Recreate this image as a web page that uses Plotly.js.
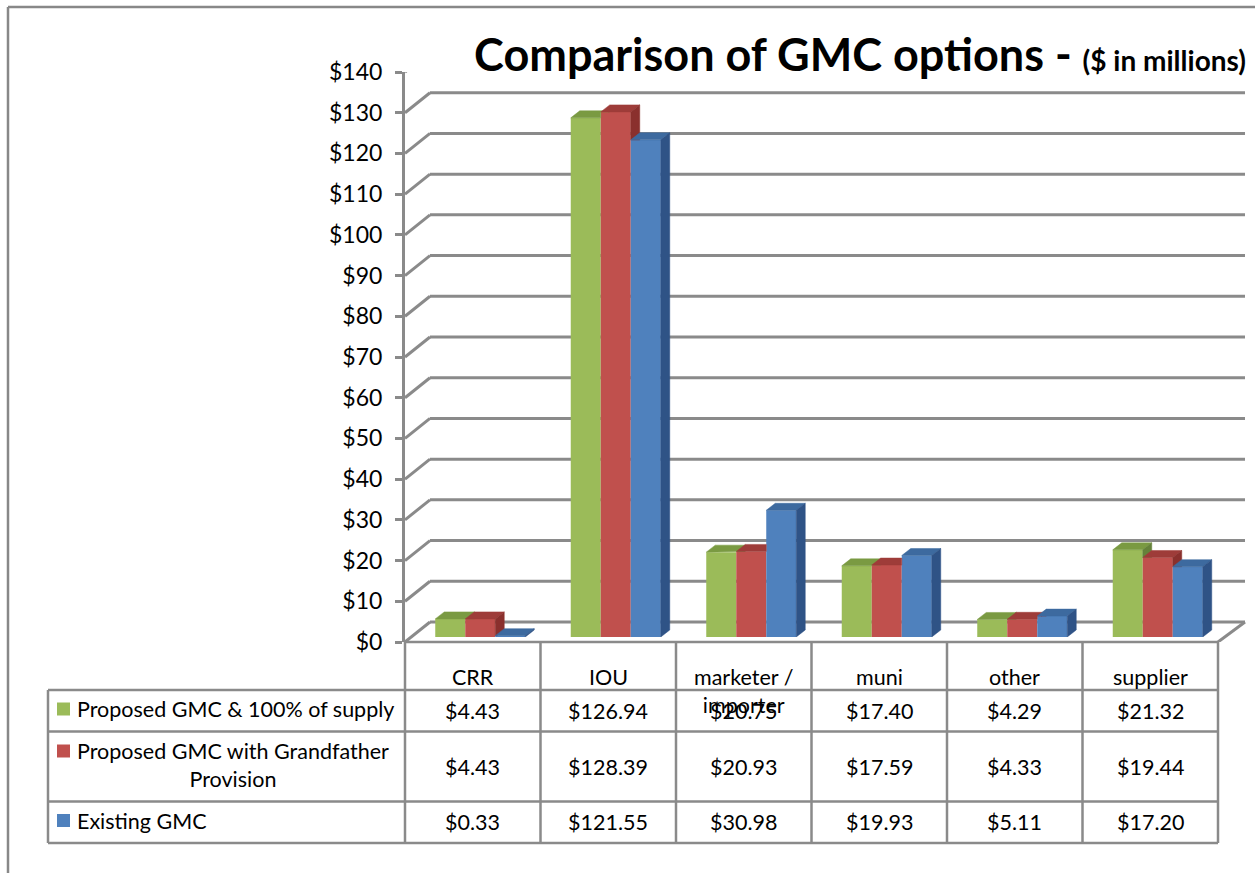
<!DOCTYPE html>
<html>
<head>
<meta charset="utf-8">
<script src="https://cdn.plot.ly/plotly-3.0.1.min.js"></script>
<style>html,body{margin:0;padding:0;background:#fff;}#chart{width:1255px;height:873px;}</style>
</head>
<body>
<div id="chart"></div>
<script>
// ---- data ----
const categories = ['CRR', 'IOU', 'marketer / importer', 'muni', 'other', 'supplier'];
const seriesNames = ['Proposed GMC & 100% of supply', 'Proposed GMC with Grandfather Provision', 'Existing GMC'];
const proposed100 = [4.43, 126.94, 20.75, 17.40, 4.29, 21.32];
const grandfather = [4.43, 128.39, 20.93, 17.59, 4.33, 19.44];
const existing = [0.33, 121.55, 30.98, 19.93, 5.11, 17.20];
const yTicks = [0, 10, 20, 30, 40, 50, 60, 70, 80, 90, 100, 110, 120, 130, 140];
const titleMain = 'Comparison of GMC options - ';
const titleSub = '($ in millions)';

// ---- styling ----
const W = 1255, H = 873;
const px = x => x / W;
const py = y => 1 - y / H;
const FONT = 'Lato, "Open Sans", sans-serif';
const GRID = '#8a8a8a';
const seriesValues = [proposed100, grandfather, existing];
const frontCol = ['#9BBB59', '#C0504D', '#4F81BD'];
const topCol = ['#7A9A42', '#9E3C39', '#3D6A9F'];
const sideCol = ['#65823A', '#8A302D', '#2F5386'];

// geometry (pixels)
const frontL = 405, frontR = 1218, frontY0 = 642, frontY140 = 72;
const backL = 430, backR = 1245, backY0 = 622, backY140 = 52;
const barL = 412.5, barR = 1225.5, barY0 = 637, barScale = 4.09;
const colW = (frontR - frontL) / categories.length;
const unitPx = (frontY0 - frontY140) / 140;
const depthUnits = (frontY0 - backY0) / unitPx;

// bar geometry in data units (bar subplot)
const nS = seriesValues.length;
const bw = 30 / colW;
const groupW = bw * nS;
const ddx = 9 / colW;
const ddy = 7 / barScale;

const traces = [];
const xIdx = categories.map((_, i) => i);
seriesValues.forEach((vals, s) => {
  traces.push({
    type: 'bar', x: xIdx, y: vals, name: seriesNames[s],
    marker: {color: frontCol[s], line: {width: 0}},
    xaxis: 'x3', yaxis: 'y3', hoverinfo: 'y+name', showlegend: false
  });
});

function clipAbove(poly, h) {
  const out = [];
  for (let i = 0; i < poly.length; i++) {
    const a = poly[i], b = poly[(i + 1) % poly.length];
    const ain = a[1] >= h, bin = b[1] >= h;
    if (ain) out.push(a);
    if (ain !== bin) {
      const t = (h - a[1]) / (b[1] - a[1]);
      out.push([a[0] + t * (b[0] - a[0]), h]);
    }
  }
  return out;
}

// faces, painter order: for each series left to right, top then side
for (let s = 0; s < nS; s++) {
  const top = {x: [], y: []}, side = {x: [], y: []};
  categories.forEach((_, c) => {
    const v = seriesValues[s][c];
    const vn = s < nS - 1 ? seriesValues[s + 1][c] : null;
    const xl = c - groupW / 2 + s * bw, xr = xl + bw;
    let tp;
    if (vn === null || vn <= v) {
      tp = [[xl, v], [xr, v], [xr + ddx, v + ddy], [xl + ddx, v + ddy]];
    } else if (vn >= v + ddy) {
      tp = [[xl, v], [xr, v], [xr, v + ddy], [xl + ddx, v + ddy]];
    } else {
      const t = (vn - v) / ddy;
      tp = [[xl, v], [xr, v], [xr, vn], [xr + ddx * t, vn], [xr + ddx, v + ddy], [xl + ddx, v + ddy]];
    }
    tp.forEach(p => { top.x.push(p[0]); top.y.push(p[1]); });
    top.x.push(tp[0][0]); top.y.push(tp[0][1]);
    top.x.push(null); top.y.push(null);
    let sp = [[xr, 0], [xr, v], [xr + ddx, v + ddy], [xr + ddx, ddy]];
    if (vn !== null) sp = clipAbove(sp, vn);
    if (sp.length > 2) {
      sp.forEach(p => { side.x.push(p[0]); side.y.push(p[1]); });
      side.x.push(sp[0][0]); side.y.push(sp[0][1]);
      side.x.push(null); side.y.push(null);
    }
  });
  [[top, topCol[s]], [side, sideCol[s]]].forEach(([f, col]) => {
    traces.push({
      type: 'scatter', mode: 'lines', x: f.x, y: f.y, fill: 'toself', fillcolor: col,
      line: {width: 0.5, color: col}, xaxis: 'x3', yaxis: 'y3', hoverinfo: 'skip', showlegend: false
    });
  });
}

// ---- shapes ----
const shapes = [];
const line = (x0, y0, x1, y1, extra) => Object.assign({
  type: 'line', xref: 'paper', yref: 'paper', x0: px(x0), y0: py(y0), x1: px(x1), y1: py(y1),
  line: {color: GRID, width: 2.5}, layer: 'above'
}, extra || {});

// chart border (top + left)
shapes.push(line(8, 7, W, 7, {line: {color: '#888', width: 2.5}}));
shapes.push(line(8, 7, 8, H, {line: {color: '#888', width: 2.5}}));

// back wall gridlines + slanted connectors front axis -> back wall
yTicks.forEach(v => {
  shapes.push({type: 'line', xref: 'paper', yref: 'y', x0: px(frontL), x1: px(backL), y0: v, y1: v + depthUnits,
    line: {color: GRID, width: 3}, layer: 'below'});
  shapes.push({type: 'line', xref: 'paper', yref: 'y', x0: px(backL), x1: px(backR), y0: v + depthUnits, y1: v + depthUnits,
    line: {color: GRID, width: 3}, layer: 'below'});
});
// floor right edge
shapes.push({type: 'line', xref: 'paper', yref: 'y', x0: px(frontR), x1: px(backR), y0: 0, y1: depthUnits,
  line: {color: GRID, width: 3}, layer: 'below'});

// data table grid
const tblTop = frontY0, tblHead = 690, rowB = [731.5, 801.5, 843], legL = 48;
shapes.push(line(frontL, tblTop, frontR, tblTop));
[tblHead].concat(rowB).forEach(y => shapes.push(line(legL, y, frontR, y)));
shapes.push(line(legL, tblHead, legL, rowB[2]));
for (let i = 0; i <= categories.length; i++) {
  const x = frontL + i * colW;
  shapes.push(line(x, tblTop, x, rowB[2]));
}
// legend keys
const rowMid = [709, 765, 820.5];
const keyY = [709, 751, 820.5];
seriesNames.forEach((n, s) => {
  shapes.push({type: 'rect', xref: 'paper', yref: 'paper', x0: px(57), x1: px(70), y0: py(keyY[s] - 6.5), y1: py(keyY[s] + 6.5),
    fillcolor: frontCol[s], line: {width: 0}, layer: 'above'});
});

// ---- annotations ----
const annotations = [];
const tfont = {family: FONT, size: 21.5, color: '#000'};
function wrap(text, maxLen) {
  const words = text.split(' ');
  const lines = [];
  let cur = '';
  words.forEach(w => {
    if (cur && (cur + ' ' + w).length > maxLen) { lines.push(cur); cur = w; }
    else cur = cur ? cur + ' ' + w : w;
  });
  if (cur) lines.push(cur);
  return lines;
}
categories.forEach((c, i) => {
  const cx = frontL + (i + 0.5) * colW;
  const lines = wrap(c, 10);
  annotations.push({xref: 'paper', yref: 'paper', x: px(cx), y: py(677 + (lines.length - 1) * 14), xanchor: 'center', yanchor: 'middle',
    text: lines.join('<br>'), showarrow: false, font: tfont, align: 'center'});
  seriesValues.forEach((vals, s) => {
    annotations.push({xref: 'paper', yref: 'paper', x: px(cx), y: py(rowMid[s] + 1.5), xanchor: 'center', yanchor: 'middle',
      text: '$' + vals[i].toFixed(2), showarrow: false, font: tfont});
  });
});
seriesNames.forEach((n, s) => {
  const lines = wrap(n, 30);
  annotations.push({xref: 'paper', yref: 'paper', x: px(75), y: py(rowMid[s]), xanchor: 'left', yanchor: 'middle',
    text: lines.join('<br>'), showarrow: false, font: tfont, align: 'center'});
});

const layout = {
  width: W, height: H,
  margin: {l: 0, r: 0, t: 0, b: 0, pad: 0},
  paper_bgcolor: '#fff', plot_bgcolor: 'rgba(0,0,0,0)',
  showlegend: false,
  font: {family: FONT, color: '#000'},
  title: {
    text: '<b>' + titleMain + '</b><b><span style="font-size:28px">' + titleSub + '</span></b>',
    font: {family: FONT, size: 45, color: '#000'},
    x: px(860), xanchor: 'center', y: py(55), yanchor: 'middle'
  },
  barmode: 'group', bargap: 1 - groupW, bargroupgap: 0,
  xaxis: {domain: [px(frontL), px(frontR)], range: [-0.5, 5.5], visible: false, fixedrange: true},
  yaxis: {domain: [py(frontY0), py(frontY140)], range: [0, 140], anchor: 'x', tickvals: yTicks,
    ticktext: yTicks.map(v => '$' + v), showline: true, linecolor: GRID, linewidth: 3,
    ticks: 'outside', ticklen: 7, tickwidth: 3, tickcolor: GRID, showgrid: false, zeroline: false,
    tickfont: {family: FONT, size: 23, color: '#000'}, ticklabelstandoff: 8, fixedrange: true},
  xaxis3: {domain: [px(barL), px(barR)], range: [-0.5, 5.5], visible: false, anchor: 'y3', fixedrange: true},
  yaxis3: {domain: [py(barY0), py(barY0 - 140 * barScale)], range: [0, 140], visible: false, anchor: 'x3', fixedrange: true},
  shapes: shapes,
  annotations: annotations
};

Plotly.newPlot('chart', traces, layout, {displayModeBar: false, staticPlot: true});
</script>
</body>
</html>
